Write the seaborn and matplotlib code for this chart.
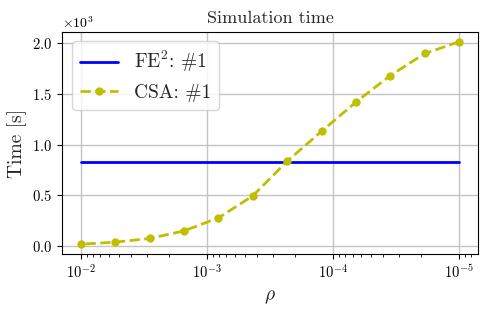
import pandas as pd
import matplotlib
matplotlib.use("Agg")
import matplotlib.pyplot as plt
import seaborn as sns

# penalty parameter values (log spaced)
rho = [1e-2, 5.34e-3, 2.85e-3, 1.52e-3, 8.11e-4, 4.33e-4,
       2.31e-4, 1.23e-4, 6.58e-5, 3.51e-5, 1.87e-5, 1e-5]
# simulation times in seconds
csa_time = [20, 40, 76, 151, 279, 496, 837, 1133, 1419, 1681, 1898, 2013]
fe2_time = [834] * len(rho)

df = pd.DataFrame({"rho": rho, "CSA": csa_time, "FE2": fe2_time})

sns.set_style("ticks")
plt.rcParams["font.family"] = "serif"
plt.rcParams["font.serif"] = ["cmr10"]
plt.rcParams["mathtext.fontset"] = "cm"
plt.rcParams["axes.formatter.use_mathtext"] = True
plt.rcParams["axes.unicode_minus"] = False

fig = plt.figure(figsize=(4.88, 3.09), dpi=100)
ax = fig.add_axes([62/488, 1 - 254.3/309, (478 - 62)/488, (254.3 - 31.7)/309])

sns.lineplot(data=df, x="rho", y="FE2", ax=ax, color="b", linewidth=2,
             label=r"FE$^2$: #1")
sns.lineplot(data=df, x="rho", y="CSA", ax=ax, color="y", linewidth=2,
             linestyle="--", marker="o", markersize=6, markeredgewidth=0,
             label="CSA: #1")

ax.set_xscale("log")
ax.invert_xaxis()
ax.ticklabel_format(axis="y", style="sci", scilimits=(0, 0))
ax.grid(True, color="#c4c4c4", linewidth=1)
for s in ax.spines.values():
    s.set_color("black")
    s.set_linewidth(0.8)
ax.tick_params(labelsize=10.5, colors="black", length=3.5, width=0.8)
ax.tick_params(axis="x", which="minor", length=2, width=0.6, colors="black")
ax.set_title("Simulation time", fontsize=13)
ax.set_xlabel(r"$\rho$", fontsize=14)
ax.set_ylabel("Time [s]", fontsize=14)
ax.legend(loc="upper left", fontsize=14, framealpha=0.8)

plt.savefig("out.png", dpi=100)
